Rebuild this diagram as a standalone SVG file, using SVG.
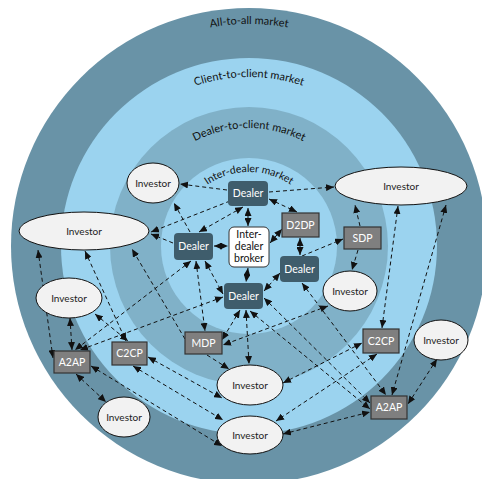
<svg xmlns="http://www.w3.org/2000/svg" width="482" height="479" viewBox="0 0 482 479">
  <defs>
    <style>
      .ring-dark { fill: #6993a7; }
      .ring-light { fill: #9bd3ef; }
      .ring-mid { fill: #80b1c8; }
      .ring-label { font-family: Lato, "Open Sans", "DejaVu Sans", sans-serif; font-size: 11px; fill: #111; }
      .inv ellipse { fill: #f2f2f2; stroke: #111; stroke-width: 1; }
      .inv text { font-family: Lato, "Open Sans", "DejaVu Sans", sans-serif; font-size: 10px; fill: #222; text-anchor: middle; }
      .dealer rect { fill: #3f5d6c; }
      .dealer text { font-family: Lato, "Open Sans", "DejaVu Sans", sans-serif; font-size: 10.5px; fill: #ffffff; text-anchor: middle; }
      .venue rect { fill: #7f7f7f; stroke: #333; stroke-width: 1.2; }
      .venue text { font-family: Lato, "Open Sans", "DejaVu Sans", sans-serif; font-size: 10.5px; fill: #ffffff; text-anchor: middle; }
      .broker rect { fill: #ffffff; stroke: #333; stroke-width: 1; }
      .broker text { font-family: Lato, "Open Sans", "DejaVu Sans", sans-serif; font-size: 10.5px; fill: #111; text-anchor: middle; }
      .link { fill: none; stroke: #111; stroke-width: 1; stroke-dasharray: 4 3; }
      .both { marker-start: url(#head); marker-end: url(#head); }
      .one { marker-end: url(#head); }
    </style>
    <marker id="head" markerUnits="userSpaceOnUse" markerWidth="8" markerHeight="7" refX="8" refY="3.5" orient="auto-start-reverse">
      <path d="M0,0 L8,3.5 L0,7 z" fill="#111"/>
    </marker>
    <path id="arc-a2a" d="M27,246 A222,222 0 0 1 471,246"/>
    <path id="arc-c2c" d="M80,246 A169,169 0 0 1 418,246"/>
    <path id="arc-d2c" d="M131,246 A118,118 0 0 1 367,246"/>
    <path id="arc-idm" d="M175,246 A74,74 0 0 1 323,246"/>
  </defs>

  <!-- market rings -->
  <g id="rings">
    <circle class="ring-dark" cx="249" cy="246" r="238"/>
    <circle class="ring-light" cx="249" cy="246" r="188"/>
    <circle class="ring-mid" cx="249" cy="246" r="139"/>
    <circle class="ring-light" cx="249" cy="246" r="88"/>
    <text class="ring-label"><textPath href="#arc-a2a" startOffset="50%" text-anchor="middle">All-to-all market</textPath></text>
    <text class="ring-label"><textPath href="#arc-c2c" startOffset="50%" text-anchor="middle">Client-to-client market</textPath></text>
    <text class="ring-label"><textPath href="#arc-d2c" startOffset="50%" text-anchor="middle">Dealer-to-client market</textPath></text>
    <text class="ring-label" style="font-size:10.5px"><textPath href="#arc-idm" startOffset="50%" text-anchor="middle">Inter-dealer market</textPath></text>
  </g>

  <!-- dashed trade links -->
  <g id="connectors">
    <path class="link both" d="M248,208 L248,226"/>
    <path class="link both" d="M214,246 L228,246"/>
    <path class="link both" d="M270,243 L282,229"/>
    <path class="link both" d="M248,268 L246,282"/>
    <path class="link both" d="M300,238 L300,255"/>
    <path class="link both" d="M269,199 L297,212"/>
    <path class="link one" d="M269,192 L334,187"/>
    <path class="link one" d="M227,190 L180,184"/>
    <path class="link one" d="M230,201 L151,232"/>
    <path class="link one" d="M173,243 L151,234"/>
    <path class="link one" d="M190,232 L174,203"/>
    <path class="link both" d="M243,207 L199,232"/>
    <path class="link both" d="M205,261 L223,294"/>
    <path class="link both" d="M264,291 L280,273"/>
    <path class="link one" d="M302,256 L343,239"/>
    <path class="link one" d="M360,226 L355,205"/>
    <path class="link one" d="M358,250 L352,270"/>
    <path class="link both" d="M398,206 L382,328"/>
    <path class="link both" d="M446,205 L392,395"/>
    <path class="link both" d="M302,283 L386,395"/>
    <path class="link both" d="M437,359 L408,404"/>
    <path class="link both" d="M283,383 L362,343"/>
    <path class="link both" d="M377,354 L276,421"/>
    <path class="link both" d="M264,298 L370,403"/>
    <path class="link both" d="M250,311 L370,409"/>
    <path class="link both" d="M283,434 L370,412"/>
    <path class="link both" d="M38,250 L53,358"/>
    <path class="link both" d="M85,251 L126,341"/>
    <path class="link one" d="M185,339 L132,249"/>
    <path class="link both" d="M70,318 L72,350"/>
    <path class="link both" d="M95,314 L128,341"/>
    <path class="link both" d="M191,261 L75,350"/>
    <path class="link both" d="M223,297 L80,350"/>
    <path class="link both" d="M196,261 L205,331"/>
    <path class="link both" d="M246,310 L249,364"/>
    <path class="link both" d="M240,310 L222,340"/>
    <path class="link one" d="M207,355 L229,369"/>
    <path class="link both" d="M328,306 L223,345"/>
    <path class="link both" d="M91,366 L222,446"/>
    <path class="link both" d="M133,366 L223,420"/>
    <path class="link both" d="M148,357 L222,398"/>
    <path class="link both" d="M76,374 L106,402"/>
  </g>

  <!-- investors -->
  <g id="investor-top-left" class="inv"><ellipse cx="153" cy="183" rx="26" ry="20"/><text x="153" y="187">Investor</text></g>
  <g id="investor-left-large" class="inv"><ellipse cx="84" cy="231" rx="65" ry="19"/><text x="84" y="235">Investor</text></g>
  <g id="investor-right-large" class="inv"><ellipse cx="401" cy="186" rx="66" ry="19"/><text x="401" y="190">Investor</text></g>
  <g id="investor-left-mid" class="inv"><ellipse cx="69" cy="298" rx="33" ry="20"/><text x="69" y="302">Investor</text></g>
  <g id="investor-center-right" class="inv"><ellipse cx="350" cy="291" rx="27" ry="20"/><text x="350" y="295">Investor</text></g>
  <g id="investor-far-right" class="inv"><ellipse cx="441" cy="340" rx="27" ry="20"/><text x="441" y="344">Investor</text></g>
  <g id="investor-bottom-left" class="inv"><ellipse cx="124" cy="417" rx="26" ry="20"/><text x="124" y="421">Investor</text></g>
  <g id="investor-lower" class="inv"><ellipse cx="250" cy="385" rx="33" ry="20"/><text x="250" y="389">Investor</text></g>
  <g id="investor-bottom" class="inv"><ellipse cx="250" cy="435" rx="33" ry="19"/><text x="250" y="439">Investor</text></g>

  <!-- dealers -->
  <g id="dealer-top" class="dealer"><rect x="228" y="181" width="40" height="25" rx="4"/><text x="248" y="197">Dealer</text></g>
  <g id="dealer-left" class="dealer"><rect x="174" y="233" width="39" height="27" rx="4"/><text x="193.5" y="250">Dealer</text></g>
  <g id="dealer-right" class="dealer"><rect x="280" y="256" width="39" height="26" rx="4"/><text x="299.5" y="273">Dealer</text></g>
  <g id="dealer-bottom" class="dealer"><rect x="224" y="283" width="39" height="26" rx="4"/><text x="243.5" y="300">Dealer</text></g>

  <!-- inter-dealer broker -->
  <g id="broker" class="broker">
    <rect x="229" y="227" width="40" height="40" rx="5"/>
    <text x="249" y="238">Inter-</text>
    <text x="249" y="250">dealer</text>
    <text x="249" y="262">broker</text>
  </g>

  <!-- trading venues -->
  <g id="d2dp" class="venue"><rect x="282" y="213" width="37" height="24"/><text x="300.5" y="229">D2DP</text></g>
  <g id="sdp" class="venue"><rect x="344" y="227" width="37" height="22"/><text x="362.5" y="242">SDP</text></g>
  <g id="mdp" class="venue"><rect x="185" y="332" width="37" height="22"/><text x="203.5" y="347">MDP</text></g>
  <g id="c2cp-left" class="venue"><rect x="112" y="342" width="35" height="23"/><text x="129.5" y="357">C2CP</text></g>
  <g id="c2cp-right" class="venue"><rect x="363" y="329" width="36" height="24"/><text x="381" y="345">C2CP</text></g>
  <g id="a2ap-left" class="venue"><rect x="54" y="351" width="36" height="22"/><text x="72" y="366">A2AP</text></g>
  <g id="a2ap-right" class="venue"><rect x="371" y="396" width="36" height="23"/><text x="389" y="411">A2AP</text></g>
</svg>
